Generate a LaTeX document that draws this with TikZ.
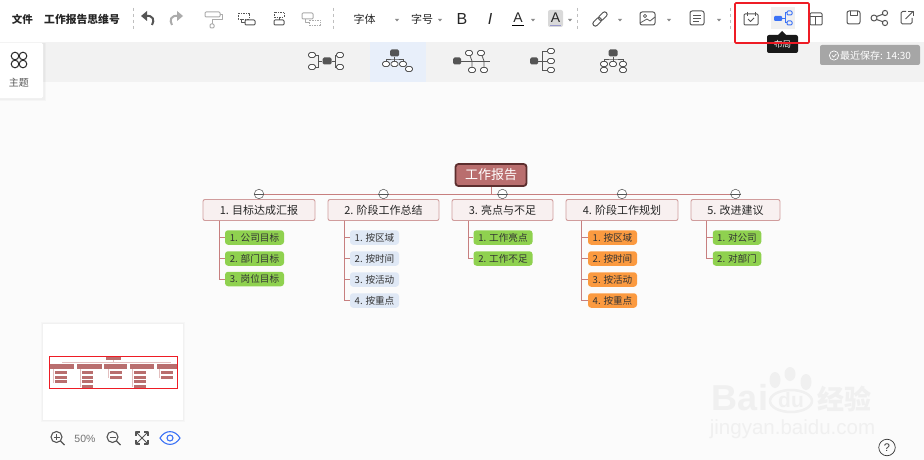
\documentclass[tikz,border=0pt]{standalone}
\usepackage{fontspec}
\setmainfont{Noto Sans CJK SC}
\newfontfamily\latinfont{Liberation Sans}
\usetikzlibrary{calc,positioning}
\definecolor{canvasbg}{HTML}{FBFBFB}
\definecolor{bandbg}{HTML}{F2F2F2}
\definecolor{pickbg}{HTML}{E8EFFA}
\definecolor{rootfill}{HTML}{B96E6E}
\definecolor{rootedge}{HTML}{5C2E2E}
\definecolor{branchfill}{HTML}{F8F0F0}
\definecolor{branchedge}{HTML}{D09C9C}
\definecolor{linkcol}{HTML}{C77F7F}
\definecolor{greenleaf}{HTML}{8FD14F}
\definecolor{blueleaf}{HTML}{DFE8F5}
\definecolor{orangeleaf}{HTML}{FB9A40}
\definecolor{icongray}{HTML}{666666}
\definecolor{icondark}{HTML}{555555}
\definecolor{iconpale}{HTML}{ABABAB}
\definecolor{iconblue}{HTML}{3B72F6}
\definecolor{markcol}{HTML}{EE1C25}
\definecolor{tagbg}{HTML}{A6A6A6}
\definecolor{wmcol}{HTML}{F0F0F0}
\tikzset{
	rootbox/.style={draw=rootedge,fill=rootfill,line width=1.8,rounded corners=3,minimum width=71,minimum height=22,inner sep=0,text=white,font=\fontsize{13}{15}\selectfont},
	branchbox/.style={draw=branchedge,fill=branchfill,line width=0.9,rounded corners=2,minimum height=21,inner sep=0,text=black!85,font=\fontsize{11}{13}\selectfont},
	leafbox/.style={rounded corners=3,minimum height=14.5,inner sep=0,text=black!80,font=\fontsize{9.6}{11}\selectfont},
	greenbox/.style={leafbox,fill=greenleaf,minimum width=59},
	greensmall/.style={leafbox,fill=greenleaf,minimum width=48.5},
	bluebox/.style={leafbox,fill=blueleaf,minimum width=49},
	orangebox/.style={leafbox,fill=orangeleaf,minimum width=49},
	fold/.style={circle,draw=icongray,fill=white,line width=0.6,minimum size=9.5,inner sep=0},
	link/.style={draw=linkcol,line width=0.9},
	toolicon/.style={draw=icondark,line width=1,line join=round},
	paleicon/.style={draw=iconpale,line width=1,line join=round},
	pill/.style={draw=icondark,fill=white,rounded corners=1.8,line width=0.8,minimum width=7,minimum height=5,inner sep=0},
	block/.style={fill=icondark,rounded corners=1.5,minimum width=9,minimum height=7,inner sep=0},
	bandline/.style={draw=icondark,line width=0.8},
	toolsep/.style={draw=black!25,dashed,line width=0.6},
	tooltext/.style={text=black!85,inner sep=0,font=\fontsize{10}{12}\selectfont},
	caret/.style={fill=black!45},
	minibar/.style={fill=rootfill}
}
\begin{document}
\begin{tikzpicture}[x=1pt,y=-1pt]
	\useasboundingbox (0,0) rectangle (924,460);
	% backgrounds
	\fill[canvasbg] (0,0) rectangle (924,460);
	\fill[white] (0,0) rectangle (924,42);
	\fill[bandbg] (0,42) rectangle (924,82);
	\fill[pickbg] (370,42) rectangle (426,82);
	% toolbar, left part
	\node[tooltext,font=\fontsize{10.5}{12}\bfseries\selectfont] (filetxt) at (22.5,19) {文件};
	\node[tooltext,font=\fontsize{10.8}{12}\bfseries\selectfont] (titletxt) at (82,19) {工作报告思维号};
	\draw[toolsep] (133,8) -- (133,29);
	\draw[toolsep] (333,8) -- (333,29);
	\draw[toolsep] (577,8) -- (577,29);
	\draw[toolsep] (730,8) -- (730,29);
	\fill[icondark] (141,16) -- (147,11) -- (147,21) -- cycle;
	\draw[icondark,line width=2] (146,16) .. controls (153,15) and (155,20) .. (152,25);
	\fill[iconpale] (183,16) -- (177,11) -- (177,21) -- cycle;
	\draw[iconpale,line width=2] (178,16) .. controls (171,15) and (169,20) .. (172,25);
	\draw[paleicon,rounded corners=1] (205,12) rectangle (220,17);
	\draw[paleicon] (220,15) -- (222,15) -- (222,20) -- (212,20) -- (212,24);
	\draw[paleicon,rounded corners=1] (210,24) rectangle (214,28);
	\draw[toolicon,dashed,line width=0.8,dash pattern=on 1.5 off 1] (238,13) rectangle (249,19);
	\draw[toolicon,rounded corners=1] (245,20) rectangle (255,25);
	\draw[toolicon,line width=0.8] (241,19) |- (245,22);
	\draw[toolicon,dashed,line width=0.8,dash pattern=on 1.5 off 1] (274,12) rectangle (284,17);
	\draw[toolicon,rounded corners=1] (274,20) rectangle (284,25);
	\draw[toolicon,line width=0.8] (279,17) -- (279,20);
	\draw[paleicon,rounded corners=1] (302,13) rectangle (313,19);
	\draw[paleicon,dashed,line width=0.8,dash pattern=on 1.5 off 1] (309,20) rectangle (320,25);
	\draw[paleicon,line width=0.8] (305,19) |- (309,22);
	% toolbar, font part
	\node[tooltext,font=\fontsize{11}{12}\selectfont] (fonttxt) at (364.5,19) {字体};
	\fill[caret] (395,19) -- (399,19) -- (397,21.5) -- cycle;
	\node[tooltext,font=\fontsize{11}{12}\selectfont] (sizetxt) at (422,19) {字号};
	\fill[caret] (438,19) -- (442,19) -- (440,21.5) -- cycle;
	\node[tooltext,font=\latinfont\fontsize{16}{18}\selectfont] (boldtxt) at (462,18.5) {B};
	\node[tooltext,font=\latinfont\itshape\fontsize{16}{18}\selectfont] (italtxt) at (490,18.5) {I};
	\node[tooltext,font=\latinfont\fontsize{14}{16}\selectfont] (acoltxt) at (518,17.5) {A};
	\fill[black] (512,25) rectangle (524,26.5);
	\fill[caret] (531,19) -- (535,19) -- (533,21.5) -- cycle;
	\fill[black!15,rounded corners=2] (548,10) rectangle (563,27);
	\node[tooltext,font=\latinfont\fontsize{14}{16}\selectfont] (abgtxt) at (555.5,17.5) {A};
	\fill[black!50!blue!40] (550,25) rectangle (561,26.5);
	\fill[caret] (568,19) -- (572,19) -- (570,21.5) -- cycle;
	\draw[toolicon,rounded corners=2.4,rotate around={45:(600,19)}] (591,16.5) rectangle (601,21.5);
	\draw[toolicon,rounded corners=2.4,rotate around={45:(600,19)}] (599,16.5) rectangle (609,21.5);
	\fill[caret] (618,19) -- (622,19) -- (620,21.5) -- cycle;
	\draw[toolicon,rounded corners=2] (640,12) rectangle (655,25);
	\draw[toolicon,line width=0.7] (645,16) circle (1.6);
	\draw[toolicon,line width=0.8] (640,23) -- (647,19) -- (650,21) -- (655,17);
	\fill[caret] (667,19) -- (671,19) -- (669,21.5) -- cycle;
	\draw[toolicon,rounded corners=2] (690,11) rectangle (704,25);
	\draw[toolicon,line width=0.8] (693,15) -- (701,15);
	\draw[toolicon,line width=0.8] (693,18) -- (701,18);
	\draw[toolicon,line width=0.8] (693,21) -- (699,21);
	\fill[caret] (717,19) -- (721,19) -- (719,21.5) -- cycle;
	% toolbar, right part
	\draw[toolicon,rounded corners=1] (744,14) rectangle (758,25);
	\draw[toolicon] (747,12) -- (747,16);
	\draw[toolicon] (755,12) -- (755,16);
	\draw[toolicon,line width=0.8] (748,19) -- (750.5,21.5) -- (754,18);
	\fill[black!6] (771,7) rectangle (795,29);
	\fill[iconblue,rounded corners=1] (774,16) rectangle (782,21);
	\draw[iconblue,line width=1] (782,18.5) -- (785,18.5);
	\draw[iconblue,line width=1] (787,13) -| (785,23) -- (787,23);
	\draw[iconblue,line width=1,rounded corners=1] (787,11) rectangle (792,15);
	\draw[iconblue,line width=1,rounded corners=1] (787,21) rectangle (792,25);
	\draw[toolicon,rounded corners=1] (810,13) rectangle (822,25);
	\draw[toolicon] (810,17) -- (822,17);
	\draw[toolicon] (815,17) -- (815,25);
	\draw[toolicon,rounded corners=2] (847,11) rectangle (860,24);
	\draw[toolicon] (850,11) -- (850,16) -- (857,16) -- (857,11);
	\draw[toolicon] (874,18) circle (3);
	\draw[toolicon] (885,13) circle (2.6);
	\draw[toolicon] (885,23) circle (2.6);
	\draw[toolicon] (876.6,16.5) -- (882.8,14.3);
	\draw[toolicon] (876.6,19.5) -- (882.8,21.7);
	\draw[toolicon,rounded corners=1.5] (906,11.5) -- (901,11.5) -- (901,24) -- (912,24) -- (912,18);
	\draw[toolicon] (905.5,19) -- (913,11.5);
	\draw[toolicon] (908,11.5) -- (913,11.5) -- (913,16);
	% tooltip and the red mark
	\fill[black!90] (782,31) -- (778,35) -- (786,35) -- cycle;
	\fill[black!90,rounded corners=2] (767,35) rectangle (798,53);
	\node[text=white,inner sep=0,font=\fontsize{8.5}{10}\selectfont] (tiptxt) at (782.5,44) {布局};
	\draw[markcol,line width=1.6,rounded corners=1] (735,3) rectangle (809,43);
	% layout choices in the band
	\node[block] (ia0) at (327,61) {};
	\node[pill] (ia1) at (312,55) {};
	\node[pill] (ia2) at (312,67) {};
	\node[pill] (ia3) at (340,55) {};
	\node[pill] (ia4) at (340,67) {};
	\draw[bandline] (ia1) -| (318,61) -- (ia0);
	\draw[bandline] (ia2) -| (318,61);
	\draw[bandline] (ia3) -| (335,61) -- (ia0);
	\draw[bandline] (ia4) -| (335,61);
	\node[block] (ib0) at (394.5,53) {};
	\node[pill] (ib1) at (386,64) {};
	\node[pill] (ib2) at (394.5,64) {};
	\node[pill] (ib3) at (403,64) {};
	\node[pill] (ib4) at (409,69) {};
	\draw[bandline] (ib0) -- (ib2);
	\draw[bandline] (ib1) |- (394.5,59) -| (ib3);
	\node[block,minimum width=8] (ic0) at (457,61) {};
	\node[pill] (ic1) at (469,53) {};
	\node[pill] (ic2) at (481,53) {};
	\node[pill] (ic3) at (472,70) {};
	\node[pill] (ic4) at (484,70) {};
	\draw[bandline] (ic0) -- (490,61);
	\draw[bandline] (ic1) -- (472,61) -- (ic3);
	\draw[bandline] (ic2) -- (484,61) -- (ic4);
	\node[block,minimum width=8] (id0) at (534,61) {};
	\node[pill] (id1) at (551,51) {};
	\node[pill] (id2) at (551,61) {};
	\node[pill] (id3) at (551,70) {};
	\draw[bandline] (id0) -- (id2);
	\draw[bandline] (id1) -| (542,70) -- (id3);
	\node[block] (ie0) at (613,53) {};
	\node[pill] (ie1) at (604,64) {};
	\node[pill] (ie2) at (604,70) {};
	\node[pill] (ie3) at (613,64) {};
	\node[pill] (ie4) at (623,64) {};
	\node[pill] (ie5) at (623,70) {};
	\draw[bandline] (ie0) -- (ie3);
	\draw[bandline] (ie1) |- (613,59) -| (ie4);
	% last saved tag
	\fill[tagbg,rounded corners=2] (820,45) rectangle (920,65);
	\draw[white,line width=0.7] (834,55.5) circle (4.6);
	\draw[white,line width=0.7] (832,55.5) -- (833.6,57) -- (836.4,54);
	\node[text=white,inner sep=0,anchor=west,font=\fontsize{10}{11}\selectfont] (savetxt) at (840,55.5) {最近保存: 14:30};
	% theme panel
	\fill[black,opacity=0.025] (0,43) rectangle (46,101);
	\fill[black,opacity=0.025] (0,43) rectangle (44.5,99.5);
	\fill[white,rounded corners=1.5] (-3,43) rectangle (43,98);
	\draw[black!85,line width=1] (15,56) circle (3.8);
	\draw[black!85,line width=1] (23,56) circle (3.8);
	\draw[black!85,line width=1] (15,64) circle (3.8);
	\draw[black!85,line width=1] (23,64) circle (3.8);
	\node[tooltext,text=black!65,font=\fontsize{10}{11}\selectfont] (themetxt) at (19,83) {主题};
	% watermark
	\node[text=wmcol,inner sep=0,font=\latinfont\bfseries\fontsize{36}{38}\selectfont] (wmbai) at (740,398) {Bai};
	\fill[wmcol] (775,380) ellipse (5.5 and 8);
	\fill[wmcol] (790,374) ellipse (5.5 and 7);
	\fill[wmcol] (806,382) ellipse (5.5 and 8);
	\draw[wmcol,line width=2.5,fill=canvasbg] (791,401) ellipse (21 and 11);
	\node[text=wmcol,inner sep=0,font=\latinfont\bfseries\fontsize{21}{22}\selectfont] (wmdu) at (791,400) {du};
	\node[text=wmcol,inner sep=0,font=\bfseries\fontsize{27}{29}\selectfont] (wmjy) at (844,399) {经验};
	\node[text=wmcol,inner sep=0,font=\latinfont\fontsize{20.5}{22}\selectfont] (wmurl) at (792.5,429) {jingyan.baidu.com};
	% help mark
	\node[circle,draw=black!80,line width=0.7,minimum size=16.5,inner sep=0,text=black!80,font=\latinfont\fontsize{11}{12}\selectfont] (helpmark) at (887,447.5) {?};
	% minimap
	\fill[black,opacity=0.02] (41,322) rectangle (185,422);
	\fill[black,opacity=0.02] (42,323) rectangle (184,421);
	\fill[white] (43,324) rectangle (183,420);
	\draw[linkcol!50,line width=0.5] (62,362) -- (171,362);
	\draw[linkcol!50,line width=0.5] (113,360) -- (113,362);
	\fill[minibar] (106,356) rectangle (121,360);
	\fill[minibar] (50,364) rectangle (74,368.5);
	\fill[minibar] (77,364) rectangle (102,368.5);
	\fill[minibar] (104,364) rectangle (127,368.5);
	\fill[minibar] (130,364) rectangle (154,368.5);
	\fill[minibar] (157,364) rectangle (177,368.5);
	\fill[minibar] (55,371) rectangle (67,374);
	\fill[minibar] (55,375.5) rectangle (67,378.5);
	\fill[minibar] (55,380) rectangle (67,383);
	\fill[minibar] (82,371) rectangle (93,374);
	\fill[minibar] (82,375.5) rectangle (93,378.5);
	\fill[minibar] (82,380) rectangle (93,383);
	\fill[minibar] (82,384.5) rectangle (93,387.5);
	\fill[minibar] (110,371) rectangle (122,374);
	\fill[minibar] (110,375.5) rectangle (122,378.5);
	\fill[minibar] (134,371) rectangle (146,374);
	\fill[minibar] (134,375.5) rectangle (146,378.5);
	\fill[minibar] (134,380) rectangle (146,383);
	\fill[minibar] (134,384.5) rectangle (146,387.5);
	\fill[minibar] (161,371) rectangle (173,374);
	\fill[minibar] (161,375.5) rectangle (173,378.5);
	\draw[linkcol!50,line width=1] (53,369) -- (53,383);
	\draw[linkcol!50,line width=1] (80,369) -- (80,387);
	\draw[linkcol!50,line width=1] (108,369) -- (108,378);
	\draw[linkcol!50,line width=1] (132,369) -- (132,387);
	\draw[linkcol!50,line width=1] (159,369) -- (159,378);
	\draw[markcol,line width=0.9] (49,356) rectangle (177,388);
	% view controls
	\draw[icondark,line width=1.1] (56.5,437) circle (5.5);
	\draw[icondark,line width=1.1] (60.5,441) -- (64.5,445);
	\draw[icondark,line width=0.9] (53.5,437) -- (59.5,437);
	\draw[icondark,line width=0.9] (56.5,434) -- (56.5,440);
	\node[tooltext,text=black!55,font=\latinfont\fontsize{10.5}{12}\selectfont] (zoomtxt) at (85,438.5) {50\%};
	\draw[icondark,line width=1.1] (112.5,437) circle (5.5);
	\draw[icondark,line width=1.1] (116.5,441) -- (120.5,445);
	\draw[icondark,line width=0.9] (109.5,437) -- (115.5,437);
	\draw[toolicon,line width=1.1] (136,436) -- (136,432) -- (140,432);
	\draw[toolicon,line width=1.1] (144,432) -- (148,432) -- (148,436);
	\draw[toolicon,line width=1.1] (136,440) -- (136,444) -- (140,444);
	\draw[toolicon,line width=1.1] (144,444) -- (148,444) -- (148,440);
	\draw[toolicon,line width=1] (137,433) -- (147,443);
	\draw[toolicon,line width=1] (147,433) -- (137,443);
	\draw[iconblue,line width=1.1] (160,438) .. controls (165,429.5) and (175,429.5) .. (180,438) .. controls (175,446.5) and (165,446.5) .. (160,438) -- cycle;
	\draw[iconblue,line width=1.1] (170,438) circle (3);
	% the map itself
	\node[rootbox] (root) at (491,175) {工作报告};
	\node[branchbox,minimum width=112] (b1) at (259,210) {1. 目标达成汇报};
	\node[branchbox,minimum width=111] (b2) at (383.5,210) {2. 阶段工作总结};
	\node[branchbox,minimum width=101] (b3) at (502.5,210) {3. 亮点与不足};
	\node[branchbox,minimum width=112] (b4) at (622,210) {4. 阶段工作规划};
	\node[branchbox,minimum width=89] (b5) at (735.5,210) {5. 改进建议};
	\coordinate (t1) at (219,220.5);
	\coordinate (t2) at (344,220.5);
	\coordinate (t3) at (468,220.5);
	\coordinate (t4) at (581,220.5);
	\coordinate (t5) at (706,220.5);
	\node[greenbox] (l11) at (254.5,237.5) {1. 公司目标};
	\node[greenbox] (l12) at (254.5,258.5) {2. 部门目标};
	\node[greenbox] (l13) at (254.5,279) {3. 岗位目标};
	\node[bluebox] (l21) at (374.5,237.5) {1. 按区域};
	\node[bluebox] (l22) at (374.5,258.5) {2. 按时间};
	\node[bluebox] (l23) at (374.5,279.5) {3. 按活动};
	\node[bluebox] (l24) at (374.5,300.5) {4. 按重点};
	\node[greenbox] (l31) at (503,237.5) {1. 工作亮点};
	\node[greenbox] (l32) at (503,258.5) {2. 工作不足};
	\node[orangebox] (l41) at (612.5,237.5) {1. 按区域};
	\node[orangebox] (l42) at (612.5,258.5) {2. 按时间};
	\node[orangebox] (l43) at (612.5,279.5) {3. 按活动};
	\node[orangebox] (l44) at (612.5,300.5) {4. 按重点};
	\node[greensmall] (l51) at (737,237.5) {1. 对公司};
	\node[greensmall] (l52) at (737,258.5) {2. 对部门};
	\node[fold] (f1) at (259,194) {};
	\node[fold] (f2) at (383.5,194) {};
	\node[fold] (f3) at (502.5,194) {};
	\node[fold] (f4) at (622,194) {};
	\node[fold] (f5) at (735.5,194) {};
	\coordinate (rootdrop) at (root.south |- f3);
	\draw[link] (root) -- (rootdrop);
	\draw[link] (f1) -- (f2);
	\draw[link] (f2) -- (f3);
	\draw[link] (f3) -- (f4);
	\draw[link] (f4) -- (f5);
	\draw[link] (f1) -- (b1);
	\draw[link] (f2) -- (b2);
	\draw[link] (f3) -- (b3);
	\draw[link] (f4) -- (b4);
	\draw[link] (f5) -- (b5);
	\draw[link] (t1) |- (l11);
	\draw[link] (t1) |- (l12);
	\draw[link] (t1) |- (l13);
	\draw[link] (t2) |- (l21);
	\draw[link] (t2) |- (l22);
	\draw[link] (t2) |- (l23);
	\draw[link] (t2) |- (l24);
	\draw[link] (t3) |- (l31);
	\draw[link] (t3) |- (l32);
	\draw[link] (t4) |- (l41);
	\draw[link] (t4) |- (l42);
	\draw[link] (t4) |- (l43);
	\draw[link] (t4) |- (l44);
	\draw[link] (t5) |- (l51);
	\draw[link] (t5) |- (l52);
	\draw[icondark,line width=0.6] (f1.west) -- (f1.east);
	\draw[icondark,line width=0.6] (f2.west) -- (f2.east);
	\draw[icondark,line width=0.6] (f3.west) -- (f3.east);
	\draw[icondark,line width=0.6] (f4.west) -- (f4.east);
	\draw[icondark,line width=0.6] (f5.west) -- (f5.east);
\end{tikzpicture}
\end{document}
